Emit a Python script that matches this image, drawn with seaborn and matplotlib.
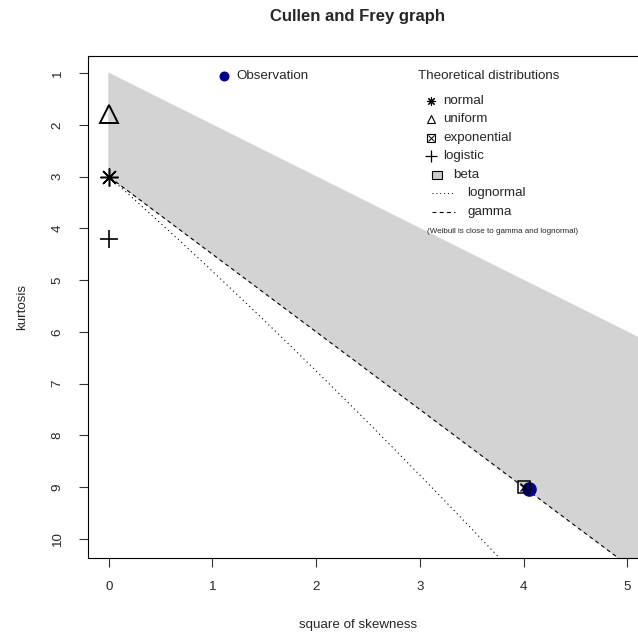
import numpy as np
import pandas as pd
import matplotlib
matplotlib.use("Agg")
import matplotlib.pyplot as plt
import seaborn as sns
from matplotlib.patches import Rectangle
from matplotlib.lines import Line2D

sns.set_style("white")
plt.rcParams['font.family'] = ['Liberation Sans', 'DejaVu Sans']

# ---- data ----
obs_skew2 = [4.055]
obs_kurt = [9.04]
dist_names = ["normal", "uniform", "exponential", "logistic"]
dist_skew2 = [0.0, 0.0, 4.0, 0.0]
dist_kurt = [3.0, 1.8, 9.0, 4.2]
x_ticks = [0, 1, 2, 3, 4, 5]
y_ticks = [1, 2, 3, 4, 5, 6, 7, 8, 9, 10]

# theoretical curves (parameter grids)
gamma_shape = np.concatenate([np.linspace(0.05, 1, 200), np.linspace(1, 1000, 2000)])
lnorm_sigma = np.linspace(0.0, 1.2, 400)
beta_s2 = np.array([0.0, 50.0])

gamma_df = pd.DataFrame({"s2": 4 / gamma_shape, "k": 3 + 6 / gamma_shape})
w = np.exp(lnorm_sigma ** 2)
lnorm_df = pd.DataFrame({"s2": (w + 2) ** 2 * (w - 1), "k": w ** 4 + 2 * w ** 3 + 3 * w ** 2 - 3})

W, H = 638, 637
fig = plt.figure(figsize=(W / 100, H / 100), dpi=100)
def fx(px): return px / W
def fy(py): return 1 - py / H

ax = fig.add_axes([fx(88), fy(558), (648 - 88) / W, (558 - 56) / H])

# beta region
upper = beta_s2 + 1
lower = 3 + 1.5 * beta_s2
poly_x = np.concatenate([beta_s2, beta_s2[::-1]])
poly_y = np.concatenate([upper, lower[::-1]])
ax.fill(poly_x, poly_y, color="#D3D3D3", lw=0.5, ec="#D3D3D3", zorder=1)

sns.lineplot(data=lnorm_df, x="s2", y="k", sort=False, ax=ax, color="black",
             lw=0.8, linestyle=(0, (1, 3)), zorder=2)
sns.lineplot(data=gamma_df, x="s2", y="k", sort=False, ax=ax, color="black",
             lw=0.8, linestyle=(0, (3.5, 3)), zorder=2)

ax.plot(obs_skew2, obs_kurt, 'o', color="#00008B", ms=9.5, zorder=4)

styles = {
    "normal": dict(marker=(8, 2, 0), ms=13, mew=1.1, color="black", mfc="none"),
    "uniform": dict(marker="^", ms=12.5, mew=1.4, color="black", mfc="none"),
    "exponential": dict(marker="s", ms=8, mew=1.1, color="black", mfc="none"),
    "logistic": dict(marker="+", ms=12.5, mew=1.2, color="black"),
}
for n, sx, ky in zip(dist_names, dist_skew2, dist_kurt):
    ax.plot([sx], [ky], ls="none", zorder=5, clip_on=False, **styles[n])
    if n == "exponential":
        ax.plot([sx], [ky], ls="none", marker="x", ms=6, mew=1.0, color="black", zorder=5)

ax.set_xlim(-0.2, 5.2)
ax.set_ylim(10.37, 0.67)
ax.set_xticks(x_ticks)
ax.set_xticklabels([str(t) for t in x_ticks])
ax.set_yticks(y_ticks)
ax.set_yticklabels([str(t) for t in y_ticks], rotation=90, va="center")
ax.set_xlabel("")
ax.set_ylabel("")
for s in ax.spines.values():
    s.set_color("black")
    s.set_linewidth(0.8)
ax.tick_params(axis="both", direction="out", length=6.5, width=0.8, color="#333333",
               labelsize=9.65, bottom=True, left=True)
ax.tick_params(axis="x", pad=10)
ax.tick_params(axis="y", pad=11)

fs = 9.65
fig.text(fx(358), fy(17), "Cullen and Frey graph", ha="center", va="center",
         fontsize=12.0, fontweight="bold")
fig.text(fx(358), fy(625), "square of skewness", ha="center", va="center", fontsize=fs)
fig.text(fx(22), fy(307), "kurtosis", ha="center", va="center", fontsize=fs, rotation=90)

# legends (drawn manually to match layout)
def key(px, py, **kw):
    fig.add_artist(Line2D([fx(px)], [fy(py)], transform=fig.transFigure, ls="none", **kw))

key(224, 76, marker="o", color="#00008B", ms=6.2)
fig.text(fx(236), fy(76), "Observation", ha="left", va="center", fontsize=fs)
fig.text(fx(418), fy(76), "Theoretical distributions", ha="left", va="center", fontsize=fs)

leg_y = [101, 119, 138, 156]
small = {
    "normal": dict(marker=(8, 2, 0), ms=6, mew=0.8, color="black", mfc="none"),
    "uniform": dict(marker="^", ms=6, mew=0.8, color="black", mfc="none"),
    "exponential": dict(marker="s", ms=5.2, mew=0.8, color="black", mfc="none"),
    "logistic": dict(marker="+", ms=8, mew=0.9, color="black"),
}
for n, yy in zip(dist_names, leg_y):
    key(431, yy, **small[n])
    if n == "exponential":
        key(431, yy, marker="x", ms=4, mew=0.7, color="black")
    fig.text(fx(443), fy(yy), n, ha="left", va="center", fontsize=fs)

fig.add_artist(Rectangle((fx(432), fy(179)), 10 / W, 8 / H, transform=fig.transFigure,
                         fc="#CCCCCC", ec="black", lw=0.8))
fig.text(fx(453), fy(175), "beta", ha="left", va="center", fontsize=fs)
fig.add_artist(Line2D([fx(432), fx(453)], [fy(193), fy(193)], transform=fig.transFigure,
                      color="black", lw=0.7, linestyle=(0, (1, 3))))
fig.text(fx(467), fy(193), "lognormal", ha="left", va="center", fontsize=fs)
fig.add_artist(Line2D([fx(432), fx(455)], [fy(212), fy(212)], transform=fig.transFigure,
                      color="black", lw=0.8, linestyle=(0, (3.5, 3))))
fig.text(fx(467), fy(212), "gamma", ha="left", va="center", fontsize=fs)
fig.text(fx(427), fy(232), "(Weibull is close to gamma and lognormal)", ha="left",
         va="center", fontsize=5.8)

fig.savefig("out.png", dpi=100)
